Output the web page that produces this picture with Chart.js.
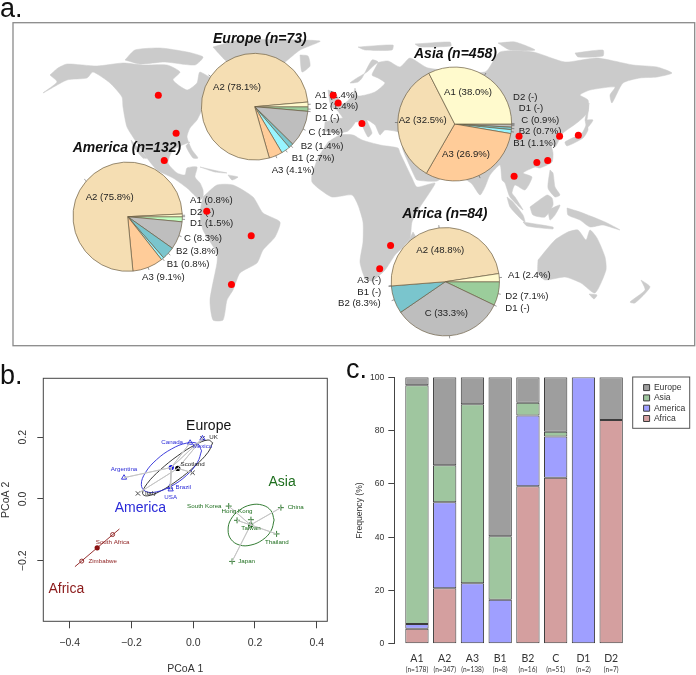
<!DOCTYPE html>
<html lang="en">
<head>
<meta charset="UTF-8">
<title>Panels a, b, c</title>
<script src="https://cdn.jsdelivr.net/npm/chart.js"></script>
<style>
  html, body { margin: 0; padding: 0; background: #fff; }
  #page { position: relative; width: 696px; height: 675px; overflow: hidden; font-family: "Liberation Sans", sans-serif; }
  canvas { position: absolute; }
  .letter { position: absolute; font-size: 27px; line-height: 27px; color: #111; }
</style>
</head>
<body>
<div id="page">
  <canvas id="map" width="684" height="325" style="left:12px;top:22px"></canvas>
  <canvas id="pieEurope" width="684" height="325" style="left:12px;top:22px"></canvas>
  <canvas id="pieAsia" width="684" height="325" style="left:12px;top:22px"></canvas>
  <canvas id="pieAmerica" width="684" height="325" style="left:12px;top:22px"></canvas>
  <canvas id="pieAfrica" width="684" height="325" style="left:12px;top:22px"></canvas>
  <canvas id="dots" width="684" height="325" style="left:12px;top:22px"></canvas>
  <canvas id="pcoa" width="345" height="330" style="left:0;top:345px"></canvas>
  <canvas id="freq" width="351" height="330" style="left:345px;top:345px"></canvas>
  <div class="letter" style="left:0;top:-5px">a.</div>
  <div class="letter" style="left:0;top:362px">b.</div>
  <div class="letter" style="left:346px;top:356px">c.</div>
</div>
<script>
// ---- panel a: pies ----
const pieGroups = ['D2', 'D1', 'C', 'B2', 'B1', 'A3', 'A2', 'A1'];
const pieColors = ['#9BCD9B', '#C1FFC1', '#BEBEBE', '#7AC5CD', '#98F5FF', '#FFCC99', '#F5DEB3', '#FFFACD'];
const europeShare = [1.4, 0, 11, 1.4, 2.7, 4.1, 78.1, 1.4];
// slice sizes as drawn in the picture, they differ a bit from the printed labels
const asiaShare = [0, 0, 0.9, 0.7, 1.1, 30.6, 34.2, 32.5];
const americaShare = [0, 1.5, 8.3, 3.8, 0.8, 9.1, 75.8, 0.8];
const africaShare = [7.1, 0, 33.3, 8.3, 0, 0, 48.8, 2.4];

const europeText = [['A2 (78.1%)', 213, 87.5], ['A1 (1.4%)', 315, 95], ['D2 (1.4%)', 315, 106.5], ['D1 (-)', 315, 118],
  ['C (11%)', 308.5, 132.7], ['B2 (1.4%)', 300.7, 146], ['B1 (2.7%)', 291.7, 158.7], ['A3 (4.1%)', 271.7, 170.7]];
const asiaText = [['A1 (38.0%)', 444, 92.3], ['A2 (32.5%)', 398.7, 120.7], ['A3 (26.9%)', 442, 154.3], ['D2 (-)', 513, 97],
  ['D1 (-)', 518.7, 108.7], ['C (0.9%)', 521.3, 120.3], ['B2 (0.7%)', 518.7, 131.7], ['B1 (1.1%)', 513.3, 143.3]];
const americaText = [['A2 (75.8%)', 85.7, 197.7], ['A1 (0.8%)', 190, 200], ['D2 (-)', 190, 212], ['D1 (1.5%)', 190, 223.3],
  ['C (8.3%)', 184, 238], ['B2 (3.8%)', 176, 251], ['B1 (0.8%)', 166.7, 264], ['A3 (9.1%)', 142, 277.3]];
const africaText = [['A2 (48.8%)', 416.3, 250.7], ['A1 (2.4%)', 508, 275.7], ['D2 (7.1%)', 505.3, 296], ['D1 (-)', 505.3, 308.3],
  ['C (33.3%)', 424.7, 313], ['A3 (-)', 357.3, 280], ['B1 (-)', 357.3, 292.3], ['B2 (8.3%)', 338, 303.3]];

const pieLayouts = [
  { id: 'pieEurope', share: europeShare, text: europeText, title: 'Europe (n=73)', titleX: 213, titleY: 39, cx: 254.7, cy: 106.7, r: 53.7 },
  { id: 'pieAsia', share: asiaShare, text: asiaText, title: 'Asia (n=458)', titleX: 414, titleY: 54, cx: 454.7, cy: 124, r: 57.3 },
  { id: 'pieAmerica', share: americaShare, text: americaText, title: 'America (n=132)', titleX: 72.7, titleY: 148, cx: 127.7, cy: 216.7, r: 55 },
  { id: 'pieAfrica', share: africaShare, text: africaText, title: 'Africa (n=84)', titleX: 402.3, titleY: 214.3, cx: 445.3, cy: 281.7, r: 54.5 }
];

// ---- panel a: map, traced by eye, in map units ----
const northAmerica = [[50,75],[58,68],[67,64],[97,66],[123,63],[143,65],[167,65],[180,72],[173,80],[187,90],[197,83],[200,72],[225,90],[205,105],[197,120],[190,128],[187,137],[192,150],[198,158],[193,158],[186,146],[190,142],[173,150],[168,163],[177,173],[185,175],[187,168],[197,167],[195,177],[200,183],[203,190],[203,197],[200,200],[187,188],[173,178],[157,170],[147,158],[137,143],[127,127],[123,107],[122,97],[110,83],[93,72],[87,78],[67,80],[43,93],[57,82],[50,75]];
const baja = [[131,140],[147,158],[143,158],[133,146],[131,140]];
const arctic1 = [[125,60],[135,50],[160,48],[187,52],[203,57],[195,65],[165,62],[140,64],[125,60]];
const greenland = [[213,47],[240,40],[320,41],[300,50],[285,62],[270,70],[240,70],[225,60],[213,47]];
const iceland = [[300,55],[308,56],[310,66],[302,72],[300,55]];
const cuba = [[200,167],[213,170],[227,173],[215,172],[200,167]];
const hispaniola = [[228,175],[238,177],[232,180],[228,175]];
const southAmerica = [[203,197],[217,185],[233,185],[253,197],[263,213],[280,222],[275,237],[263,250],[257,263],[240,273],[233,290],[227,300],[223,320],[213,320],[210,300],[217,263],[217,253],[203,230],[200,213],[203,197]];
const africa = [[328,142],[340,135],[353,135],[362,140],[380,145],[398,148],[400,153],[412,178],[417,187],[435,183],[428,195],[420,207],[412,222],[410,238],[402,248],[395,255],[385,270],[372,281],[365,278],[360,262],[363,242],[363,222],[358,205],[352,195],[332,197],[318,188],[312,182],[312,175],[318,158],[328,142]];
const madagascar = [[413,232],[416,238],[410,255],[405,250],[413,232]];
const iberia = [[325,122],[343,118],[355,122],[348,131],[338,133],[325,131],[325,122]];
const britain = [[328,90],[335,93],[340,103],[333,107],[330,103],[328,90]];
const eurasia = [[343,118],[337,110],[330,106],[345,103],[353,95],[355,88],[358,96],[375,92],[385,83],[378,78],[372,75],[378,62],[372,60],[362,78],[358,82],[350,83],[357,78],[367,72],[377,63],[388,61],[400,67],[410,58],[428,68],[485,72],[500,52],[533,52],[565,62],[597,58],[633,65],[657,67],[672,73],[657,77],[640,78],[623,83],[612,103],[610,95],[615,87],[590,90],[580,95],[588,100],[588,112],[578,122],[563,133],[560,138],[555,147],[550,140],[553,153],[552,162],[540,168],[535,167],[523,173],[532,177],[525,190],[515,185],[512,193],[515,197],[523,210],[510,197],[505,183],[502,180],[500,165],[490,175],[485,187],[480,195],[471,183],[450,172],[437,181],[417,180],[414,175],[403,150],[400,133],[385,130],[380,135],[375,125],[367,120],[372,133],[368,137],[360,122],[355,122],[343,118]];
const svalbard = [[358,47],[393,45],[392,50],[365,50],[358,47]];
const franzJosef = [[415,44],[450,42],[451,46],[420,47],[415,44]];
const novaya = [[498,43],[515,42],[535,50],[510,50],[498,43]];
const newSiberia = [[575,53],[603,50],[603,56],[578,57],[575,53]];
const sakhalin = [[589,103],[585,120],[587,120],[589,103]];
const hokkaido = [[585,120],[593,120],[587,128],[585,120]];
const honshu = [[587,123],[588,130],[583,138],[567,146],[565,142],[582,133],[587,123]];
const sumatra = [[507,197],[513,202],[523,215],[525,222],[520,218],[510,207],[507,197]];
const java = [[523,222],[553,227],[553,229],[527,226],[523,222]];
const borneo = [[530,207],[547,195],[552,198],[553,205],[545,217],[533,215],[530,207]];
const sulawesi = [[548,210],[560,205],[555,215],[550,220],[548,210]];
const philippines = [[550,170],[553,173],[555,187],[560,195],[555,197],[548,188],[550,170]];
const newGuinea = [[567,208],[580,212],[605,222],[620,230],[603,225],[590,227],[580,220],[568,215],[567,208]];
const australia = [[538,260],[555,240],[568,232],[578,230],[586,240],[590,230],[597,238],[605,257],[606,270],[595,293],[581,283],[565,277],[545,280],[538,273],[538,260]];
const tasmania = [[589,294],[597,295],[594,299],[589,294]];
const newZealand = [[641,280],[650,287],[635,303],[630,302],[645,290],[641,280]];
const landShapes = [northAmerica, baja, arctic1, greenland, iceland, cuba, hispaniola, southAmerica, africa, madagascar, iberia, britain,
  eurasia, svalbard, franzJosef, novaya, newSiberia, sakhalin, hokkaido, honshu, sumatra, java, borneo, sulawesi, philippines, newGuinea, australia, tasmania, newZealand];
const blackSea = [[385,115],[395,113],[397,122],[387,122],[385,115]];
const redSites = [[156,93],[174,132],[162,160],[333,93],[338,101],[205,212],[250,237],[230,287],[362,122],[521,135],[562,135],[581,134],[539,162],[550,160],[516,176],[391,247],[380,271]];

// ---- panel b: PCoA ----
const pcoaXTicks = [-0.4, -0.2, 0, 0.2, 0.4];
const pcoaXLabels = ['−0.4', '−0.2', '0.0', '0.2', '0.4'];
const pcoaYTicks = [-0.2, 0, 0.2];
const pcoaYLabels = ['−0.2', '0.0', '0.2'];
const americaCentre = [-0.071, 0.102];
const europeCentre = [-0.050, 0.099];
const asiaCentre = [0.186, -0.084];
const africaCentre = [-0.311, -0.158];
const americaPts = [[-0.010, 0.182], [0.030, 0.196], [-0.224, 0.069], [-0.075, 0.039], [-0.073, 0.031]];
const europePts = [[0.030, 0.196], [-0.002, 0.085], [-0.179, 0.018]];
const asiaPts = [[0.284, -0.028], [0.115, -0.023], [0.142, -0.069], [0.187, -0.067], [0.270, -0.113], [0.126, -0.202]];
const africaPts = [[-0.261, -0.115], [-0.361, -0.201]];
const africaLine = [[-0.383, -0.219], [-0.239, -0.097]];
const americaRing = [[0.027,0.156],[0.014,0.179],[-0.021,0.181],[-0.070,0.162],[-0.119,0.127],[-0.155,0.085],[-0.168,0.047],[-0.155,0.025],[-0.119,0.023],[-0.070,0.042],[-0.021,0.077],[0.014,0.119],[0.027,0.156]];
const europeRing = [[0.063,0.182],[0.048,0.191],[0.006,0.175],[-0.050,0.140],[-0.107,0.094],[-0.149,0.050],[-0.164,0.018],[-0.149,0.010],[-0.107,0.025],[-0.050,0.061],[0.006,0.107],[0.048,0.151],[0.063,0.182]];
const asiaRing = [[0.262,-0.068],[0.252,-0.038],[0.225,-0.020],[0.187,-0.019],[0.150,-0.036],[0.122,-0.066],[0.113,-0.100],[0.122,-0.130],[0.150,-0.149],[0.187,-0.149],[0.225,-0.132],[0.252,-0.103],[0.262,-0.068]];

const BLUE = '#2a2ad8', DARK = '#222', GREEN = '#1e6e1e', RED = '#8b1a1a';
const siteLabels = [['Canada', -0.068, 0.183, BLUE], ['Mexico', 0.030, 0.169, BLUE], ['Argentina', -0.224, 0.097, BLUE], ['Brazil', -0.032, 0.038, BLUE], ['USA', -0.073, 0.004, BLUE],
  ['UK', 0.066, 0.199, DARK], ['Scotland', -0.002, 0.113, DARK], ['Italy', -0.138, 0.018, DARK],
  ['South Korea', 0.036, -0.022, GREEN], ['Hong Kong', 0.142, -0.041, GREEN], ['Taiwan', 0.187, -0.095, GREEN], ['China', 0.332, -0.028, GREEN], ['Thailand', 0.271, -0.139, GREEN], ['Japan', 0.173, -0.200, GREEN],
  ['South Africa', -0.261, -0.141, RED], ['Zimbabwe', -0.293, -0.200, RED]];
const regionLabels = [['Europe', 0.050, 0.236, '#111'], ['America', -0.171, -0.031, BLUE], ['Asia', 0.288, 0.054, GREEN], ['Africa', -0.411, -0.292, RED]];

// ---- panel c: stacked frequency ----
const freqGroups = ['A1', 'A2', 'A3', 'B1', 'B2', 'C', 'D1', 'D2'];
const freqCounts = ['(n=178)', '(n=347)', '(n=138)', '(n=8)', '(n=16)', '(n=51)', '(n=2)', '(n=7)'];
const freqAfrica = [5.6, 20.8, 0, 0, 59.1, 62.3, 0, 84];
const freqAmerica = [1.8, 32.3, 22.7, 16.5, 26.6, 15.5, 100, 0];
const freqAsia = [89.6, 13.9, 67.2, 23.8, 4.7, 1.8, 0, 0];
const freqEurope = [3.0, 33.0, 10.1, 59.7, 9.6, 20.4, 0, 16];
const freqTicks = [0, 20, 40, 60, 80, 100];

const toXY = list => list.map(p => ({ x: p[0], y: p[1] }));
const FONT = '"Liberation Sans", sans-serif';

// map and red sites share the same hidden axes
const mapScales = {
  x: { type: 'linear', display: false, min: 12, max: 696 },
  y: { type: 'linear', display: false, min: 22, max: 347, reverse: true }
};
const noExtras = { legend: { display: false }, tooltip: { enabled: false }, title: { display: false } };

const frame = {
  id: 'frame',
  afterDraw(chart) {
    const { ctx } = chart;
    const { x, y } = chart.scales;
    ctx.save();
    ctx.strokeStyle = '#8a8a8a';
    ctx.lineWidth = 1.3;
    ctx.strokeRect(x.getPixelForValue(13), y.getPixelForValue(22.7), x.getPixelForValue(694.7) - x.getPixelForValue(13), y.getPixelForValue(345.7) - y.getPixelForValue(22.7));
    ctx.restore();
  }
};

new Chart(document.getElementById('map'), {
  type: 'scatter',
  data: {
    datasets: landShapes.map(shape => ({
      data: toXY(shape), showLine: true, fill: 'shape', backgroundColor: '#cbcbcb', borderColor: '#cbcbcb', borderWidth: 0.5, pointRadius: 0, tension: 0.2
    })).concat([{
      data: toXY(blackSea), showLine: true, fill: 'shape', backgroundColor: '#fff', borderColor: '#fff', borderWidth: 0, pointRadius: 0
    }])
  },
  options: { responsive: false, animation: false, events: [], layout: { padding: 0 }, scales: mapScales, plugins: noExtras },
  plugins: [frame]
});

// one canvas per pie, padding puts the circle where it belongs on the map
const pieText = {
  id: 'pieText',
  afterDraw(chart) {
    const { ctx } = chart;
    const layout = chart.config.options.pieLayout;
    const arcs = chart.getDatasetMeta(0).data;
    ctx.save();
    ctx.strokeStyle = '#555';
    ctx.lineWidth = 0.6;
    arcs.forEach(arc => {
      const p = arc.getProps(['x', 'y', 'startAngle', 'endAngle', 'outerRadius'], true);
      const mid = (p.startAngle + p.endAngle) / 2;
      ctx.beginPath();
      ctx.moveTo(p.x + Math.cos(mid) * p.outerRadius, p.y + Math.sin(mid) * p.outerRadius);
      ctx.lineTo(p.x + Math.cos(mid) * p.outerRadius * 1.05, p.y + Math.sin(mid) * p.outerRadius * 1.05);
      ctx.stroke();
    });
    ctx.fillStyle = '#222';
    ctx.textBaseline = 'middle';
    ctx.textAlign = 'left';
    ctx.font = '9.6px ' + FONT;
    layout.text.forEach(t => ctx.fillText(t[0], t[1] - 12, t[2] - 22));
    ctx.fillStyle = '#111';
    ctx.font = 'italic bold 14px ' + FONT;
    ctx.fillText(layout.title, layout.titleX - 12, layout.titleY - 22);
    ctx.restore();
  }
};

pieLayouts.forEach(p => {
  new Chart(document.getElementById(p.id), {
    type: 'pie',
    data: {
      labels: pieGroups,
      datasets: [{ data: p.share, backgroundColor: pieColors, borderColor: '#6b5f45', borderWidth: 0.7 }]
    },
    options: {
      responsive: false, animation: false, events: [], rotation: 90,
      pieLayout: p,
      layout: { padding: { left: p.cx - p.r - 12, right: 696 - p.cx - p.r, top: p.cy - p.r - 22, bottom: 347 - p.cy - p.r } },
      plugins: noExtras
    },
    plugins: [pieText]
  });
});

new Chart(document.getElementById('dots'), {
  type: 'scatter',
  data: { datasets: [{ data: toXY(redSites), pointRadius: 3.5, pointBackgroundColor: '#f00', pointBorderWidth: 0 }] },
  options: { responsive: false, animation: false, events: [], layout: { padding: 0 }, scales: mapScales, plugins: noExtras }
});

// ---- panel b ----
const spokes = (c, pts) => pts.reduce((out, p) => out.concat([c, p, c]), []);
const line = (pts, color, width, tension) => ({ data: toXY(pts), showLine: true, borderColor: color, borderWidth: width, pointRadius: 0, tension: tension || 0, fill: false });
const marks = (pts, style, color, radius) => ({ data: toXY(pts), pointStyle: style, pointRadius: radius, pointBackgroundColor: 'rgba(0,0,0,0)', pointBorderColor: color, pointBorderWidth: 0.9 });
const centre = (c, color) => ({ data: toXY([c]), pointRadius: 2.6, pointBackgroundColor: color, pointBorderWidth: 0 });

const pcoaText = {
  id: 'pcoaText',
  afterDraw(chart) {
    const { ctx, chartArea: a } = chart;
    const { x, y } = chart.scales;
    ctx.save();
    ctx.strokeStyle = '#444';
    ctx.lineWidth = 1;
    ctx.strokeRect(a.left, a.top, a.width, a.height);
    ctx.textAlign = 'center';
    ctx.textBaseline = 'middle';
    ctx.font = '6.2px ' + FONT;
    siteLabels.forEach(t => { ctx.fillStyle = t[3]; ctx.fillText(t[0], x.getPixelForValue(t[1]), y.getPixelForValue(t[2])); });
    ctx.font = '14px ' + FONT;
    regionLabels.forEach(t => { ctx.fillStyle = t[3]; ctx.fillText(t[0], x.getPixelForValue(t[1]), y.getPixelForValue(t[2])); });
    ctx.restore();
  }
};

new Chart(document.getElementById('pcoa'), {
  type: 'scatter',
  data: {
    datasets: [
      line(spokes(americaCentre, americaPts), '#c4c4c4', 0.9),
      line(spokes(europeCentre, europePts), '#c4c4c4', 0.9),
      line(spokes(asiaCentre, asiaPts), '#c4c4c4', 0.9),
      line(americaRing, BLUE, 0.9, 0.4),
      line(europeRing, '#222', 0.9, 0.4),
      line(asiaRing, GREEN, 0.9, 0.4),
      line(africaLine, RED, 0.9),
      marks(americaPts, 'triangle', BLUE, 3),
      marks(europePts, 'crossRot', '#222', 3),
      marks(asiaPts, 'cross', GREEN, 3),
      marks(africaPts, 'circle', RED, 2),
      centre(americaCentre, '#1414e0'),
      centre(europeCentre, '#000'),
      centre(asiaCentre, '#0a640a'),
      centre(africaCentre, '#8b0f0f')
    ]
  },
  options: {
    responsive: false, animation: false, events: [],
    layout: { padding: { top: 33.3, right: 17.7, left: 0, bottom: 0 } },
    scales: {
      x: {
        type: 'linear', min: -0.4855, max: 0.4343,
        afterBuildTicks(s) { s.ticks = pcoaXTicks.map(v => ({ value: v })); },
        afterFit(s) { s.height = 53.7; },
        grid: { drawOnChartArea: false, tickLength: 7, tickColor: '#444', tickWidth: 1 },
        border: { display: false },
        ticks: { callback: v => pcoaXLabels[pcoaXTicks.indexOf(v)], color: '#333', font: { size: 10.5, family: FONT }, padding: 9, maxRotation: 0, minRotation: 0, autoSkip: false },
        title: { display: true, text: 'PCoA 1', color: '#333', font: { size: 10.5, family: FONT }, padding: { top: 0, bottom: 0 } }
      },
      y: {
        type: 'linear', min: -0.3958, max: 0.3906,
        afterBuildTicks(s) { s.ticks = pcoaYTicks.map(v => ({ value: v })); },
        afterFit(s) { s.width = 43.3; },
        grid: { drawOnChartArea: false, tickLength: 6, tickColor: '#444', tickWidth: 1 },
        border: { display: false },
        ticks: { callback: v => pcoaYLabels[pcoaYTicks.indexOf(v)], color: '#333', font: { size: 10.5, family: FONT }, padding: 3.8, minRotation: 90, maxRotation: 90, crossAlign: 'center', autoSkip: false },
        title: { display: true, text: 'PCoA 2', color: '#333', font: { size: 10.5, family: FONT }, padding: { top: 0, bottom: 0 } }
      }
    },
    plugins: noExtras
  },
  plugins: [pcoaText]
});

// ---- panel c ----
const freqExtras = {
  id: 'freqExtras',
  afterLayout(chart) {
    chart.legend.top += 4.3;
    chart.legend.bottom += 4.3;
  },
  afterDraw(chart) {
    const { ctx } = chart;
    const { x } = chart.scales;
    ctx.save();
    ctx.fillStyle = '#333';
    ctx.textAlign = 'center';
    ctx.textBaseline = 'middle';
    ctx.font = '6.6px Lato, ' + FONT;
    freqCounts.forEach((t, i) => ctx.fillText(t, x.getPixelForValue(i), 325));
    // frame around the legend
    ctx.strokeStyle = '#555';
    ctx.lineWidth = 1;
    ctx.strokeRect(287.7, 32, 57, 51.3);
    ctx.restore();
  }
};

const stack = (label, values, color) => ({ label, data: values.map((v, i) => ({ x: i, y: v })), backgroundColor: color, borderColor: '#3c3c3c', borderWidth: 1, borderSkipped: false, barPercentage: 0.84, categoryPercentage: 1 });

new Chart(document.getElementById('freq'), {
  type: 'bar',
  data: {
    datasets: [
      stack('Africa', freqAfrica, '#D49F9F'),
      stack('America', freqAmerica, '#9F9FFF'),
      stack('Asia', freqAsia, '#9FC69F'),
      stack('Europe', freqEurope, '#9E9E9E')
    ]
  },
  options: {
    responsive: false, animation: false, events: [],
    layout: { padding: { top: 32.3, right: 0.6, left: 0, bottom: 0 } },
    scales: {
      x: {
        type: 'linear', stacked: true, offset: false, min: -0.816, max: 8.107,
        afterBuildTicks(s) { s.ticks = freqGroups.map((g, i) => ({ value: i })); },
        afterFit(s) { s.height = 31.3; },
        grid: { display: false, offset: false },
        border: { display: false },
        ticks: { callback: v => freqGroups[v], color: '#333', font: { size: 10.5, family: 'Lato, ' + FONT }, padding: 1, maxRotation: 0, autoSkip: false }
      },
      y: {
        stacked: true, min: 0, max: 100,
        afterBuildTicks(s) { s.ticks = freqTicks.map(v => ({ value: v })); },
        afterFit(s) { s.width = 49.3; },
        grid: { drawOnChartArea: false, tickLength: 6, tickColor: '#444' },
        border: { display: true, color: '#444', width: 1 },
        ticks: { color: '#333', font: { size: 8.6, family: FONT }, padding: 4, autoSkip: false },
        title: { display: true, text: 'Frequency (%)', color: '#333', font: { size: 8.6, family: FONT }, padding: { top: 9, bottom: 0 } }
      }
    },
    plugins: {
      tooltip: { enabled: false },
      legend: {
        display: true, position: 'right', align: 'start', reverse: true,
        labels: { boxWidth: 6, boxHeight: 6, padding: 1.7, color: '#333', font: { size: 8.6, family: FONT, lineHeight: 1 } }
      }
    }
  },
  plugins: [freqExtras]
});
</script>
</body>
</html>
